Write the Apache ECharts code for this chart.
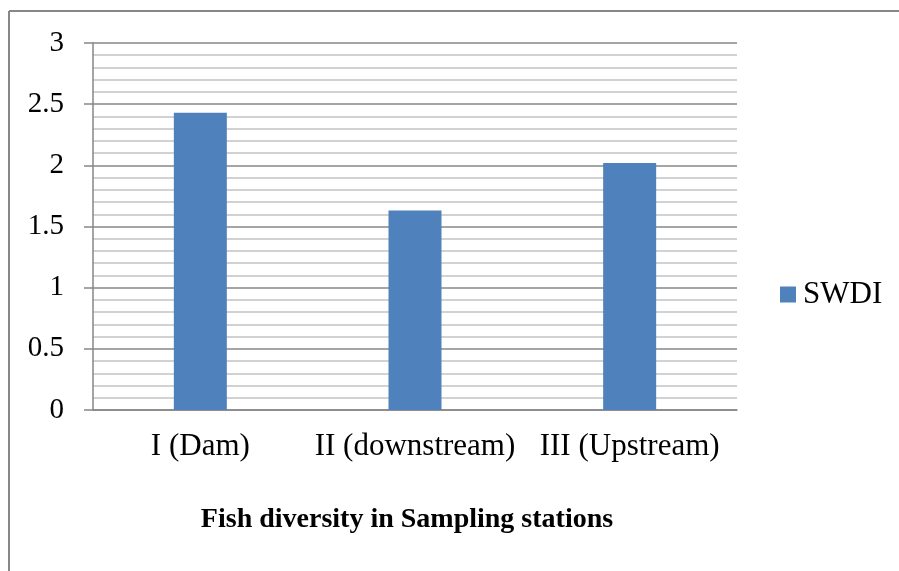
<!DOCTYPE html>
<html>
<head>
<meta charset="utf-8">
<script src="https://cdn.jsdelivr.net/npm/echarts@6/dist/echarts.min.js"></script>
<style>
html,body{margin:0;padding:0;background:#fff;}
#c{width:899px;height:571px;}
</style>
</head>
<body>
<div id="c"></div>
<script>
const categories = ['I (Dam)', 'II (downstream)', 'III (Upstream)'];
const swdiValues = [2.43, 1.63, 2.02];
const seriesName = 'SWDI';
const xTitle = 'Fish diversity in Sampling stations';

const chart = echarts.init(document.getElementById('c'), null, {renderer: 'canvas'});
const font = '"Liberation Serif", "Times New Roman", serif';
chart.setOption({
  animation: false,
  backgroundColor: '#fff',
  graphic: [
    {type: 'line', shape: {x1: 9, y1: 11, x2: 9, y2: 571}, style: {stroke: '#878787', lineWidth: 2}},
    {type: 'line', shape: {x1: 9, y1: 11, x2: 899, y2: 11}, style: {stroke: '#878787', lineWidth: 2}},
    {type: 'text', style: {text: xTitle, font: 'bold 28px ' + font, fill: '#000', x: 407, y: 520, align: 'center', verticalAlign: 'middle'}}
  ],
  grid: {left: 93, right: 162, top: 43, bottom: 161},
  legend: {
    data: [seriesName],
    orient: 'vertical',
    left: 780, top: 279, padding: 0,
    itemWidth: 16, itemHeight: 16, itemGap: 4,
    icon: 'rect',
    textStyle: {fontFamily: font, fontSize: 31, color: '#000', padding: [0,0,0,2]}
  },
  xAxis: {
    type: 'category',
    data: categories,
    axisLine: {show: true, lineStyle: {color: '#878787', width: 1.5}},
    axisTick: {show: false},
    axisLabel: {fontFamily: font, fontSize: 31, color: '#000', margin: 21, interval: 0, hideOverlap: false}
  },
  yAxis: {
    type: 'value',
    min: 0, max: 3, interval: 0.5,
    axisLine: {show: true, lineStyle: {color: '#878787', width: 1.5}},
    axisTick: {show: true, length: 9, lineStyle: {color: '#878787', width: 1.5}},
    axisLabel: {fontFamily: font, fontSize: 29, color: '#000', margin: 29},
    splitLine: {show: true, lineStyle: {color: '#878787', width: 1.5}},
    minorTick: {show: false, splitNumber: 5},
    minorSplitLine: {show: true, lineStyle: {color: '#c4c4c4', width: 1.5}}
  },
  series: [{
    name: seriesName,
    type: 'bar',
    data: swdiValues,
    barWidth: 53,
    itemStyle: {color: '#4f81bd'}
  }]
});
</script>
</body>
</html>
